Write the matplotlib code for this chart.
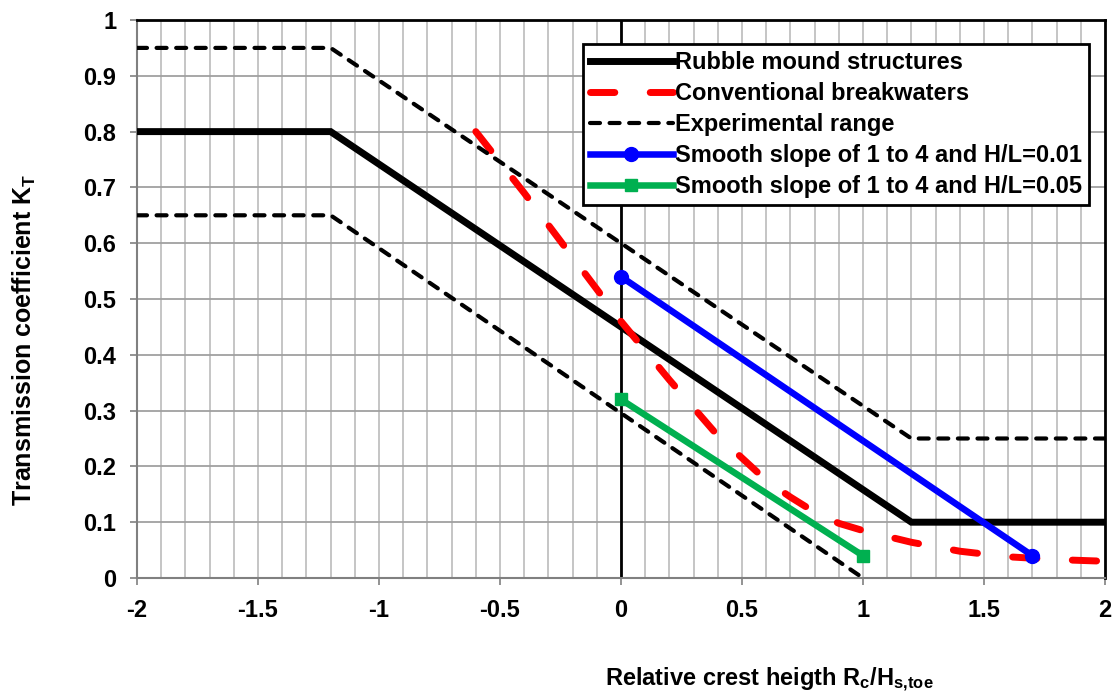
import matplotlib
matplotlib.use('Agg')
import matplotlib.pyplot as plt

plt.rcParams['font.family'] = ['Liberation Sans', 'DejaVu Sans']
plt.rcParams['font.weight'] = 'bold'
plt.rcParams['mathtext.fontset'] = 'custom'
plt.rcParams['mathtext.rm'] = 'Liberation Sans:bold'
plt.rcParams['mathtext.it'] = 'Liberation Sans:bold'
plt.rcParams['mathtext.bf'] = 'Liberation Sans:bold'

# data
rubble_x = [-2.0, -1.2, 1.2, 2.0]
rubble_y = [0.8, 0.8, 0.1, 0.1]

conv_x = [-0.6, -0.4, -0.2, 0.0, 0.2, 0.4, 0.6, 0.7, 0.8, 0.9, 1.0, 1.2, 1.4, 1.6, 1.8, 2.0]
conv_y = [0.80, 0.69, 0.575, 0.46, 0.355, 0.255, 0.175, 0.145, 0.118, 0.098, 0.085, 0.064, 0.048, 0.038, 0.033, 0.03]

exp_hi_x = [-2.0, -1.2, 1.2, 2.0]
exp_hi_y = [0.95, 0.95, 0.25, 0.25]
exp_lo_x = [-2.0, -1.2, 1.0]
exp_lo_y = [0.65, 0.65, 0.0]

smooth01_x = [0.0, 1.7]
smooth01_y = [0.54, 0.04]
smooth05_x = [0.0, 1.0]
smooth05_y = [0.32, 0.04]

x_ticks = [-2, -1.5, -1, -0.5, 0, 0.5, 1, 1.5, 2]
x_ticklabels = ['-2', '-1.5', '-1', '-0.5', '0', '0.5', '1', '1.5', '2']
y_ticks = [0, 0.1, 0.2, 0.3, 0.4, 0.5, 0.6, 0.7, 0.8, 0.9, 1]
y_ticklabels = ['0', '0.1', '0.2', '0.3', '0.4', '0.5', '0.6', '0.7', '0.8', '0.9', '1']

W, H = 1112, 695
fig = plt.figure(figsize=(W / 100, H / 100), dpi=100)
ax = fig.add_axes([137 / W, 1 - 578 / H, (1105 - 137) / W, (578 - 20) / H])

ax.set_xlim(-2, 2)
ax.set_ylim(0, 1)

# grid
for gx in [i / 10 for i in range(-19, 20)]:
    ax.axvline(gx, color='#c0c0c0', lw=1.3, zorder=0)
for gy in y_ticks[1:-1]:
    ax.axhline(gy, color='#a0a0a0', lw=1.3, zorder=0)
ax.axvline(0, color='black', lw=2, zorder=1)

ax.plot(rubble_x, rubble_y, color='black', lw=5, solid_joinstyle='miter',
        label='Rubble mound structures', zorder=3)
ax.plot(conv_x, conv_y, color='#ff0000', lw=5, dashes=(3.5, 5.1),
        dash_capstyle='round', label='Conventional breakwaters', zorder=3)
ax.plot(exp_hi_x, exp_hi_y, color='black', lw=3, dashes=(2.4, 2.3),
        dash_capstyle='round', label='Experimental range', zorder=4)
ax.plot(exp_lo_x, exp_lo_y, color='black', lw=3, dashes=(2.4, 2.3),
        dash_capstyle='round', zorder=4)
ax.plot(smooth01_x, smooth01_y, color='#0000ff', lw=4.7, marker='o', ms=10,
        label='Smooth slope of 1 to 4 and H/L=0.01', zorder=5)
ax.plot(smooth05_x, smooth05_y, color='#00b050', lw=4.7, marker='s', ms=9,
        label='Smooth slope of 1 to 4 and H/L=0.05', zorder=5)

for s in ['top', 'right']:
    ax.spines[s].set_color('black')
    ax.spines[s].set_linewidth(2)
for s in ['left', 'bottom']:
    ax.spines[s].set_color('#808080')
    ax.spines[s].set_linewidth(1.5)

ax.tick_params(which='major', direction='out', length=5, width=1.2, color='#808080',
               labelsize=17, pad=10)
ax.set_xticks(x_ticks)
ax.set_xticklabels(x_ticklabels)
ax.set_yticks(y_ticks)
ax.set_yticklabels(y_ticklabels)

leg = fig.legend(loc='upper left', bbox_to_anchor=(583 / W, 1 - 44 / H),
                 bbox_transform=fig.transFigure, borderaxespad=0, fontsize=17,
                 handlelength=3.5, handletextpad=0.1, labelspacing=0.34,
                 borderpad=0.3, fancybox=False, framealpha=1, numpoints=1)
leg.get_frame().set_edgecolor('black')
leg.get_frame().set_linewidth(2)
leg.set_zorder(10)

fig.text(605 / W, 1 - 680 / H, r'Relative crest heigth R$_\mathrm{c}$/H$_\mathrm{s{,}toe}$',
         ha='left', va='center', fontsize=17)
fig.text(24 / W, 1 - 340 / H, r'Transmission coefficient K$_\mathrm{T}$',
         ha='center', va='center', rotation=90, fontsize=18)

fig.savefig('out.png', dpi=100)
